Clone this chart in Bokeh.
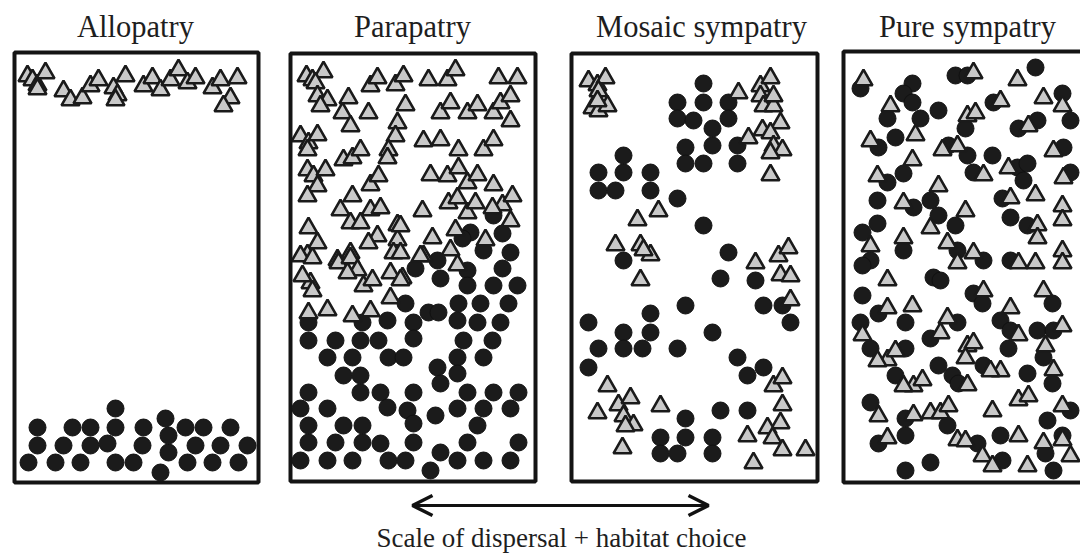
import numpy as np
from bokeh.plotting import figure
from bokeh.models import Range1d, Arrow, OpenHead
from bokeh.core.properties import value
from bokeh.embed import file_html
from bokeh.resources import INLINE

# ---------------- data ----------------
panel_titles = ["Allopatry", "Parapatry", "Mosaic sympatry", "Pure sympatry"]
caption = "Scale of dispersal + habitat choice"

# Allopatry
allo_tri_x = [27, 32, 37, 45, 37, 63, 70, 82, 90, 98, 113, 117, 125, 115, 143, 152, 160, 170, 178, 187, 195, 212, 220, 230, 223, 237]
allo_tri_y = [73, 77, 82, 70, 86, 88, 97, 95, 83, 77, 85, 92, 73, 97, 83, 75, 87, 77, 67, 80, 75, 85, 77, 95, 103, 75]
allo_cir_x = [28, 55, 80, 115, 133, 160, 187, 212, 238, 37, 63, 90, 107, 142, 168, 195, 220, 247,
              37, 72, 90, 115, 143, 168, 185, 203, 230, 115, 165]
allo_cir_y = [462, 462, 462, 462, 462, 472, 462, 462, 462, 445, 445, 445, 443, 445, 452, 445, 445, 445,
              427, 427, 427, 427, 427, 435, 427, 427, 427, 408, 418]

# Parapatry
para_tri = [(306, 73), (312, 77), (323, 69), (315, 80), (370, 83), (377, 75), (395, 82), (403, 73),
            (428, 77), (447, 77), (455, 67), (498, 75), (517, 75),
            (317, 93), (327, 97), (320, 103), (348, 95), (342, 110), (350, 123), (368, 110),
            (405, 102), (397, 120), (395, 133),
            (440, 110), (450, 100), (467, 110), (477, 102), (493, 110), (500, 100), (510, 93), (510, 118),
            (300, 133), (308, 140), (317, 132), (307, 147),
            (343, 157), (352, 155), (360, 147), (388, 147), (387, 155),
            (423, 138), (440, 137), (458, 147), (483, 147), (493, 137),
            (307, 167), (313, 173), (325, 167), (317, 183), (307, 193),
            (370, 182), (378, 173), (352, 193),
            (430, 172), (447, 173), (458, 165), (467, 180), (477, 172), (493, 182),
            (340, 207), (350, 220), (370, 207), (380, 205), (360, 220),
            (308, 225), (317, 240), (307, 252),
            (377, 233), (368, 240), (397, 222), (397, 237), (393, 250),
            (422, 208), (448, 200), (457, 195), (467, 210), (475, 200), (502, 202), (510, 218), (492, 205),
            (485, 237), (455, 227), (432, 235), (450, 247), (423, 253), (457, 262), (400, 223), (400, 250),
            (402, 275), (512, 193),
            (337, 257), (350, 250),
            (300, 253), (312, 255), (338, 260), (350, 255), (357, 267), (347, 270), (420, 253),
            (390, 270), (400, 277), (310, 280), (312, 288), (302, 273), (363, 283), (372, 277), (390, 295),
            (308, 310), (327, 307), (352, 313), (370, 308)]
para_tri_x = [p[0] for p in para_tri]
para_tri_y = [p[1] for p in para_tri]
para_cir = [(493, 215), (502, 233), (470, 232), (462, 238), (483, 250), (510, 252), (437, 260), (415, 268),
            (440, 278), (467, 270), (502, 268), (467, 285), (493, 285), (517, 285),
            (405, 303), (428, 312), (438, 312), (458, 303), (480, 303), (508, 303),
            (308, 322), (362, 322), (387, 320), (413, 322), (457, 320), (477, 322), (500, 322),
            (308, 340), (335, 340), (360, 340), (378, 340), (413, 338), (463, 340), (492, 340),
            (327, 357), (352, 357), (388, 357), (403, 357), (457, 357), (483, 357),
            (343, 375), (360, 375), (437, 367), (457, 373), (440, 383),
            (308, 392), (360, 392), (380, 392), (413, 392), (467, 392), (493, 392), (518, 392),
            (300, 408), (327, 408), (387, 407), (407, 410), (435, 415), (457, 408), (483, 408), (510, 408),
            (308, 425), (343, 425), (362, 425), (413, 423), (477, 425),
            (308, 442), (335, 442), (362, 442), (380, 443), (413, 442), (467, 442), (518, 442),
            (300, 460), (327, 460), (352, 460), (388, 460), (405, 460), (440, 452), (457, 460), (483, 460),
            (510, 460), (430, 470)]
para_cir_x = [p[0] for p in para_cir]
para_cir_y = [p[1] for p in para_cir]

# Mosaic sympatry
mos_tri = [(588, 78), (597, 82), (605, 75), (598, 88), (592, 105), (598, 108), (607, 103), (597, 98),
           (738, 90), (760, 83), (770, 75), (760, 93), (763, 103), (773, 103), (780, 120), (762, 127),
           (770, 130), (748, 135), (773, 143), (782, 147), (770, 150), (770, 172), (773, 93),
           (637, 217), (658, 208), (615, 242), (640, 242), (650, 252), (643, 247), (640, 277),
           (755, 260), (778, 253), (788, 245), (780, 272), (790, 273), (790, 297),
           (607, 383), (618, 402), (630, 395), (597, 410), (623, 413), (633, 422), (622, 445), (660, 403),
           (625, 423),
           (773, 383), (782, 375), (782, 402), (780, 420), (767, 425), (772, 435), (782, 447), (747, 433),
           (753, 460), (805, 447)]
mos_tri_x = [p[0] for p in mos_tri]
mos_tri_y = [p[1] for p in mos_tri]
mos_cir = [(703, 83), (703, 102), (677, 102), (677, 118), (693, 120), (728, 102), (728, 118), (712, 128),
           (712, 145), (685, 147), (685, 163), (703, 163), (737, 145), (737, 163), (623, 155), (623, 172),
           (598, 172), (598, 190), (615, 190), (650, 172), (650, 190), (677, 198), (703, 225), (728, 252),
           (623, 260), (720, 278), (755, 280), (763, 305), (782, 305), (790, 322), (685, 305), (650, 313),
           (650, 332), (623, 332), (623, 348), (642, 348), (598, 348), (588, 322), (588, 367), (677, 348),
           (712, 332), (737, 357), (747, 375), (763, 367), (720, 410), (747, 410), (685, 418), (685, 437),
           (660, 437), (660, 453), (677, 453), (712, 437), (712, 453)]
mos_cir_x = [p[0] for p in mos_cir]
mos_cir_y = [p[1] for p in mos_cir]

# Pure sympatry
pure_cir = [(860, 88), (912, 83), (903, 93), (912, 102), (887, 118), (920, 118), (938, 110), (895, 137),
            (878, 147), (955, 75), (967, 75), (1035, 67), (993, 102), (1062, 93), (1070, 120), (1018, 128),
            (1037, 120), (965, 128), (948, 145), (967, 155), (992, 155), (973, 172), (1017, 167),
            (1027, 163), (1023, 180), (1063, 147), (1070, 172), (903, 173), (887, 182), (877, 200),
            (913, 207), (930, 200), (938, 215), (955, 225), (1002, 198), (1010, 217), (1027, 225),
            (862, 232), (877, 223), (870, 260), (903, 250), (957, 250), (983, 260), (1010, 260),
            (862, 265), (933, 277), (940, 280), (973, 293), (982, 303), (1000, 320), (1010, 330),
            (1052, 303), (1037, 330), (1053, 330), (862, 295), (878, 313), (905, 322), (930, 338),
            (957, 322), (860, 322), (870, 348), (905, 348), (1008, 348), (1043, 357), (895, 375),
            (938, 365), (952, 375), (958, 383), (983, 365), (1027, 373), (1052, 383), (870, 402),
            (905, 418), (947, 425), (977, 443), (1000, 435), (1047, 420), (1070, 410), (1045, 453),
            (1062, 435), (1002, 460), (878, 443), (905, 435), (930, 462), (905, 470), (1053, 470)]
pure_cir_x = [p[0] for p in pure_cir]
pure_cir_y = [p[1] for p in pure_cir]
pure_tri = [(863, 77), (890, 103), (870, 138), (915, 132), (912, 157), (877, 173), (903, 200), (938, 183),
            (967, 113), (975, 110), (942, 147), (957, 143), (973, 70), (1000, 98), (1017, 77), (1043, 95),
            (1062, 103), (1028, 123), (1053, 148), (1063, 175), (1008, 165), (983, 172), (1035, 192),
            (1010, 195), (965, 208), (930, 225), (1037, 222), (1037, 235), (1062, 203), (1062, 217),
            (903, 235), (870, 243), (947, 240), (973, 250), (957, 260), (1018, 260), (1035, 260),
            (1062, 248), (1062, 260),
            (887, 277), (862, 332), (887, 305), (912, 303), (947, 315), (940, 330), (967, 343), (973, 340),
            (965, 355), (983, 288), (1010, 305), (1018, 332), (1043, 288), (1062, 323), (1045, 343),
            (1000, 368), (990, 368), (967, 382), (1053, 367), (887, 357), (877, 358), (895, 348),
            (913, 383), (903, 383), (922, 377), (878, 413), (913, 412), (930, 410), (940, 410), (948, 403),
            (992, 408), (1018, 397), (1028, 393), (1062, 403), (887, 435), (957, 437), (965, 438),
            (1018, 433), (1043, 440), (1062, 437), (982, 453), (992, 463), (1027, 463), (1070, 453)]
pure_tri_x = [p[0] for p in pure_tri]
pure_tri_y = [p[1] for p in pure_tri]

# ---------------- layout ----------------
panel_left = [14, 290, 571, 843]
panel_right = [258, 535, 817, 1100]
panel_top = [52, 53, 53, 51]
panel_bottom = [482, 481, 481, 482]
title_x = [135, 412, 701, 967]
title_y = 26

p = figure(width=1080, height=554, x_range=Range1d(0, 1080), y_range=Range1d(554, 0),
           output_backend="svg", toolbar_location=None, min_border=0,
           x_axis_type=None, y_axis_type=None)
p.grid.visible = False
p.outline_line_color = None
p.background_fill_color = "white"
p.border_fill_color = "white"

TRI_SIZE = 18
TRI_SHIFT = TRI_SIZE * np.sqrt(3) / 2 / 6  # centroid vs bounding-box centre

groups = [
    (allo_cir_x, allo_cir_y, allo_tri_x, allo_tri_y),
    (para_cir_x, para_cir_y, para_tri_x, para_tri_y),
    (mos_cir_x, mos_cir_y, mos_tri_x, mos_tri_y),
    (pure_cir_x, pure_cir_y, pure_tri_x, pure_tri_y),
]
for cx, cy, tx, ty in groups:
    p.scatter(x=cx, y=cy, marker="circle", size=17, fill_color="#1b1b1b",
              line_color="#111111", line_width=1)
    p.scatter(x=tx, y=list(np.array(ty) + TRI_SHIFT), marker="triangle", size=TRI_SIZE,
              fill_color="#c9c9c9", line_color="#1a1a1a", line_width=2.6)

# panel frames
p.quad(left=panel_left, right=panel_right, top=panel_top, bottom=panel_bottom,
       fill_color=None, line_color="#141414", line_width=4)

# titles
p.text(x=title_x, y=[title_y] * 4, text=panel_titles, text_align="center",
       text_baseline="alphabetic", text_font=value("Liberation Serif"),
       text_font_size="30.5px", text_color="#1e1e1e")

# arrow and caption
p.add_layout(Arrow(x_start=412, y_start=505, x_end=708, y_end=505,
                   line_width=3.2, line_color="#111111",
                   start=OpenHead(size=20, line_width=3.5, line_color="#111111"),
                   end=OpenHead(size=20, line_width=3.5, line_color="#111111")))
p.text(x=[561], y=[537], text=[caption], text_align="center", text_baseline="alphabetic",
       text_font=value("Liberation Serif"), text_font_size="27px", text_color="#1e1e1e")

open("out.html", "w").write(file_html(p, INLINE))
